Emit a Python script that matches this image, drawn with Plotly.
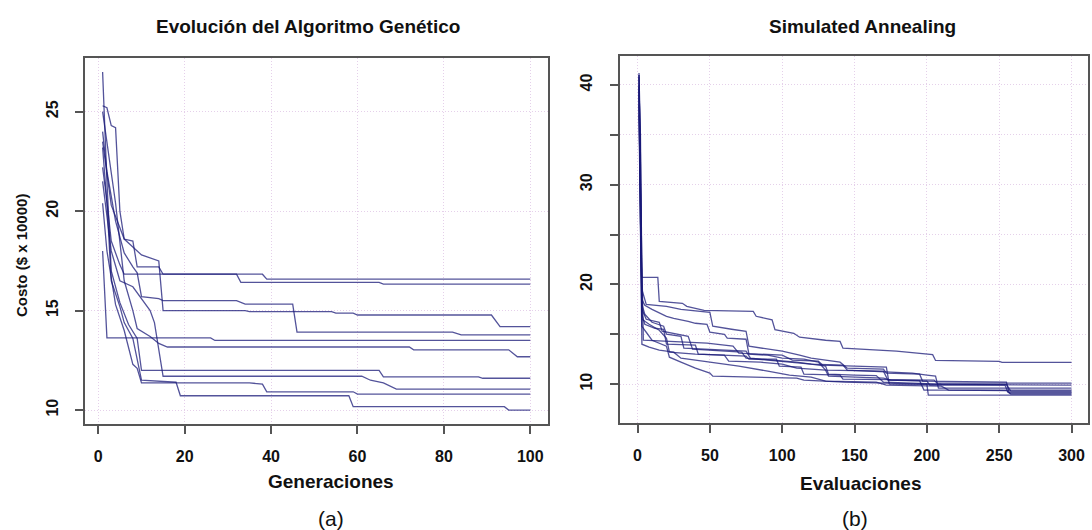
import plotly.graph_objects as go

W, H = 1092, 530

# ---------------- data: Genetic Algorithm (generation, cost) breakpoints ----------------
ga_gen = [
    [1, 2, 3, 4, 5, 6, 8, 9, 14, 15, 38, 39, 100],
    [1, 2, 3, 5, 6, 32, 33, 65, 66, 100],
    [1, 2, 4, 6, 8, 9, 10, 14, 15, 32, 34, 45, 46, 82, 84, 100],
    [1, 3, 6, 10, 14, 15, 34, 35, 54, 55, 59, 60, 91, 93, 100],
    [1, 2, 26, 27, 100],
    [1, 2, 4, 6, 8, 9, 12, 14, 16, 72, 73, 95, 97, 100],
    [1, 2, 3, 5, 7, 9, 10, 65, 66, 88, 89, 100],
    [1, 3, 5, 8, 12, 13, 15, 61, 63, 66, 69, 100],
    [1, 2, 4, 6, 8, 9, 10, 35, 38, 39, 59, 60, 100],
    [1, 2, 3, 5, 6, 8, 10, 18, 19, 58, 59, 94, 95, 100],
]
ga_cost = [
    [25.3, 25.2, 24.3, 24.2, 20.0, 18.6, 18.5, 17.2, 17.2, 16.83, 16.83, 16.58, 16.58],
    [22.2, 20.5, 18.5, 17.3, 16.83, 16.83, 16.42, 16.42, 16.33, 16.33],
    [24.0, 22.0, 19.5, 17.9, 17.2, 16.9, 15.7, 15.6, 15.5, 15.5, 15.33, 15.33, 13.92, 13.92, 13.78, 13.78],
    [23.5, 20.3, 18.6, 17.8, 17.5, 15.0, 15.0, 14.95, 14.95, 14.87, 14.87, 14.78, 14.78, 14.2, 14.2],
    [18.0, 13.63, 13.63, 13.5, 13.5],
    [25.0, 23.5, 20.4, 16.5, 15.0, 14.1, 13.7, 13.35, 13.17, 13.17, 13.03, 13.03, 12.68, 12.68],
    [27.0, 21.5, 17.0, 15.4, 14.3, 13.6, 12.0, 12.0, 11.67, 11.67, 11.6, 11.6],
    [21.5, 18.0, 16.5, 16.2, 15.0, 14.4, 11.7, 11.7, 11.5, 11.37, 11.05, 11.05],
    [20.4, 18.0, 15.3, 14.0, 12.3, 12.1, 11.37, 11.37, 11.3, 10.92, 10.92, 10.8, 10.8],
    [23.2, 20.4, 16.5, 15.2, 14.4, 13.6, 11.5, 11.4, 10.72, 10.72, 10.17, 10.17, 10.0, 10.0],
]

# ---------------- data: Simulated Annealing (evaluation, cost) breakpoints ----------------
sa_eval = [
    [1, 2, 3, 14, 15, 31, 34, 46, 80, 82, 93, 95, 108, 112, 130, 140, 142, 179, 204, 206, 250, 252, 300],
    [1, 2, 3, 5, 10, 20, 25, 35, 40, 48, 50, 60, 62, 75, 77, 90, 100, 115, 125, 130, 170, 173, 200, 202, 254, 256, 300],
    [1, 2, 3, 6, 15, 17, 25, 35, 38, 48, 72, 75, 90, 105, 120, 142, 145, 175, 190, 200, 206, 208, 300],
    [1, 2, 3, 8, 15, 20, 22, 40, 60, 63, 85, 100, 110, 130, 132, 170, 175, 195, 198, 300],
    [1, 2, 3, 5, 12, 18, 20, 40, 42, 75, 77, 96, 98, 113, 115, 140, 142, 205, 207, 300],
    [1, 2, 4, 20, 35, 48, 60, 66, 70, 100, 107, 125, 128, 145, 172, 174, 250, 300],
    [1, 2, 3, 6, 10, 20, 22, 30, 40, 50, 52, 110, 115, 143, 200, 201, 300],
    [1, 2, 3, 8, 15, 25, 30, 40, 50, 70, 90, 105, 120, 130, 165, 172, 210, 215, 255, 258, 300],
    [1, 2, 3, 5, 10, 18, 20, 30, 32, 55, 75, 78, 110, 130, 132, 150, 165, 170, 210, 255, 258, 300],
    [1, 2, 3, 6, 20, 30, 50, 52, 65, 75, 77, 100, 112, 120, 140, 145, 170, 172, 195, 197, 255, 257, 300],
]
sa_cost = [
    [41.0, 35.0, 20.7, 20.7, 18.3, 18.1, 17.8, 17.4, 17.3, 16.8, 16.45, 15.45, 15.1, 14.7, 14.4, 14.28, 13.6, 13.3, 12.95, 12.37, 12.27, 12.17, 12.17],
    [39.5, 28.0, 18.5, 17.9, 17.5, 16.8, 16.6, 16.3, 16.1, 16.0, 15.2, 15.0, 14.6, 14.5, 13.0, 12.9, 12.6, 12.5, 12.2, 11.4, 11.3, 10.4, 10.3, 9.9, 9.9, 9.2, 9.2],
    [41.0, 31.0, 17.5, 16.5, 16.2, 15.3, 15.1, 14.8, 13.5, 13.4, 13.2, 12.6, 12.4, 12.2, 12.0, 11.9, 11.4, 11.2, 11.1, 10.9, 10.8, 9.6, 9.6],
    [38.0, 25.0, 16.5, 16.0, 15.4, 14.6, 13.2, 13.0, 12.9, 12.3, 12.2, 12.0, 11.6, 11.4, 10.8, 10.6, 10.4, 10.35, 9.4, 9.4],
    [40.0, 33.0, 17.0, 16.0, 15.6, 15.5, 14.0, 13.9, 13.0, 12.8, 12.5, 12.5, 11.8, 11.7, 11.0, 10.9, 10.5, 10.4, 10.1, 10.1],
    [41.2, 30.0, 14.4, 14.3, 14.2, 14.1, 13.9, 13.8, 13.1, 12.9, 12.4, 12.3, 11.9, 11.8, 11.7, 10.0, 9.95, 9.9],
    [39.0, 27.0, 15.8, 15.2, 14.4, 13.8, 12.7, 12.2, 11.6, 11.1, 10.8, 10.6, 10.4, 10.2, 10.0, 8.9, 8.9],
    [37.0, 22.0, 14.0, 13.7, 13.4, 13.2, 12.6, 12.4, 12.2, 11.8, 11.3, 10.9, 10.7, 10.3, 10.2, 9.9, 9.8, 9.4, 9.35, 9.0, 9.0],
    [40.8, 32.0, 18.0, 17.0, 16.2, 15.8, 15.0, 14.8, 13.6, 13.4, 13.3, 12.6, 12.2, 11.8, 11.0, 10.9, 10.85, 10.2, 10.0, 9.95, 9.3, 9.3],
    [39.8, 26.0, 19.5, 18.0, 17.8, 17.5, 17.2, 15.8, 15.5, 15.3, 13.8, 13.3, 12.9, 12.6, 12.2, 11.6, 11.5, 11.1, 11.0, 10.3, 10.2, 9.1, 9.1],
]

# ---------------- ticks / labels ----------------
ga_xticks = [0, 20, 40, 60, 80, 100]
ga_yticks = [10, 15, 20, 25]
sa_xticks = [0, 50, 100, 150, 200, 250, 300]
sa_yticks = [10, 15, 20, 25, 30, 35, 40]
sa_yticklabels = ["10", "", "20", "", "30", "", "40"]

title_left = "Evolución del Algoritmo Genético"
title_right = "Simulated Annealing"
xlabel_left = "Generaciones"
xlabel_right = "Evaluaciones"
ylabel_left = "Costo ($ x 10000)"

LINE = "rgba(25,25,120,0.75)"
GRID = "rgba(225,200,230,0.85)"
AX = "#555555"
FONT = "Liberation Sans"

fig = go.Figure()
for gx, gy in zip(ga_gen, ga_cost):
    fig.add_trace(go.Scatter(x=gx, y=gy, mode="lines", xaxis="x", yaxis="y",
                             line=dict(color=LINE, width=1.3), showlegend=False,
                             hoverinfo="skip"))
for sx, sy in zip(sa_eval, sa_cost):
    fig.add_trace(go.Scatter(x=sx, y=sy, mode="lines", xaxis="x2", yaxis="y2",
                             line=dict(color=LINE, width=1.3), showlegend=False,
                             hoverinfo="skip"))

def px(x):
    return x / W

def py(y):
    return 1 - y / H

axis_common = dict(showline=True, mirror=True, linecolor=AX, linewidth=1.5,
                   ticks="outside", ticklen=8, tickwidth=1.5, tickcolor=AX,
                   showgrid=True, gridcolor=GRID, griddash="1px,2px", gridwidth=1,
                   zeroline=False, tickfont=dict(family=FONT, size=16, color="#111"))

fig.update_layout(
    width=W, height=H,
    margin=dict(l=0, r=0, t=0, b=0),
    paper_bgcolor="white", plot_bgcolor="white",
    font=dict(family=FONT),
    xaxis=dict(domain=[px(84.6), px(548)], range=[-3.17, 104.1], tickmode="array",
               tickvals=ga_xticks, ticktext=[f"<b>{v}</b>" for v in ga_xticks],
               ticklabelstandoff=9, **axis_common),
    yaxis=dict(domain=[py(424), py(58)], range=[9.3, 27.7], tickmode="array",
               tickvals=ga_yticks, ticktext=[f"<b>{v}</b>" for v in ga_yticks],
               tickangle=-90, ticklabelstandoff=10, **axis_common),
    xaxis2=dict(domain=[px(620.2), px(1088)], range=[-12.0, 311.4], tickmode="array",
                tickvals=sa_xticks, ticktext=[f"<b>{v}</b>" for v in sa_xticks],
                anchor="y2", ticklabelstandoff=9, **axis_common),
    yaxis2=dict(domain=[py(423), py(56)], range=[6.1, 42.9], tickmode="array",
                tickvals=sa_yticks, ticktext=[f"<b>{t}</b>" if t else "" for t in sa_yticklabels],
                tickangle=-90, anchor="x2", ticklabelstandoff=12, **axis_common),
)

ann = [
    (title_left, 308, 27, 19, True, 0),
    (title_right, 862, 27, 19, True, 0),
    (xlabel_left, 331, 481, 19, True, 0),
    (xlabel_right, 860, 483, 19, True, 0),
    (ylabel_left, 21, 256, 15, True, -90),
    ("(a)", 331, 518, 21, False, 0),
    ("(b)", 855, 518, 21, False, 0),
]
for text, x, y, size, bold, ang in ann:
    fig.add_annotation(text=f"<b>{text}</b>" if bold else text, x=px(x), y=py(y),
                       xref="paper", yref="paper", showarrow=False,
                       xanchor="center", yanchor="middle", textangle=ang,
                       font=dict(family=FONT, size=size, color="#111"))

fig.write_html("out.html")
